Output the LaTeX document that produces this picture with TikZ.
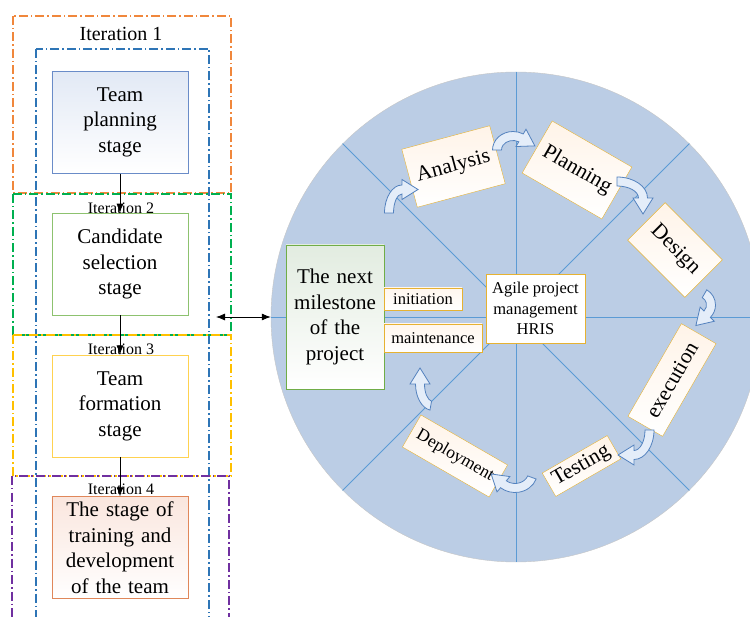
\documentclass[tikz,border=0pt]{standalone}
\usepackage{fontspec}
\setmainfont{Liberation Serif}
\usetikzlibrary{arrows.meta}

\definecolor{wheelblue}{RGB}{187,205,229}
\definecolor{spokeblue}{RGB}{91,155,213}
\definecolor{iterorange}{RGB}{240,135,60}
\definecolor{itergreen}{RGB}{0,176,80}
\definecolor{iteryellow}{RGB}{255,192,0}
\definecolor{iterpurple}{RGB}{112,48,160}
\definecolor{iterblue}{RGB}{46,117,182}
\definecolor{phasegold}{RGB}{230,178,50}
\definecolor{arrowline}{RGB}{84,130,190}
\definecolor{arrowfill}{RGB}{228,237,249}
\definecolor{planline}{RGB}{106,140,200}
\definecolor{plantop}{RGB}{226,233,245}
\definecolor{selectline}{RGB}{141,194,111}
\definecolor{formline}{RGB}{255,210,80}
\definecolor{trainline}{RGB}{224,135,90}
\definecolor{traintop}{RGB}{250,230,222}
\definecolor{mileline}{RGB}{112,173,71}
\definecolor{miletop}{RGB}{226,236,224}

% hollow curved arrow: centre x, centre y, x radius, y radius, start angle, end angle
\newcommand{\bentarrow}[6]{%
	\path[bent arrow] ({#1+(#3+4.5)*cos(#5)},{#2+(#4+4.5)*sin(#5)})
		arc[start angle=#5, end angle=#6, x radius=#3+4.5, y radius=#4+4.5]
		-- ({#1+(#3+10)*cos(#6)},{#2+(#4+10)*sin(#6)})
		-- ({#1+#3*cos(#6)-16*sin(#6)},{#2+#4*sin(#6)+16*cos(#6)})
		-- ({#1+(#3-10)*cos(#6)},{#2+(#4-10)*sin(#6)})
		-- ({#1+(#3-4.5)*cos(#6)},{#2+(#4-4.5)*sin(#6)})
		arc[start angle=#6, end angle=#5, x radius=#3-4.5, y radius=#4-4.5]
		-- cycle;}

\begin{document}
\begin{tikzpicture}
	[x=1pt, y=-1pt,
		stage/.style		={rectangle
									, draw
									, thick
									, text width=126pt
									, align=center
									, minimum width=136pt
									, minimum height=102pt
									, inner sep=5pt
									, font=\fontsize{21}{25.5}\selectfont
									},
		frame/.style		={draw
									, line width=1.2pt
									, dash pattern=on 9pt off 3pt on 1.5pt off 3pt
									},
		phase/.style		={rectangle
									, draw=phasegold
									, top color=orange!9
									, bottom color=white
									, inner sep=1pt
									, font=\fontsize{21.5}{24}\selectfont
									},
		tag/.style			={rectangle
									, draw=phasegold
									, thick
									, top color=orange!7
									, bottom color=white
									, inner sep=1pt
									, font=\fontsize{16.5}{20}\selectfont
									},
		bent arrow/.style	={draw=arrowline
									, line width=0.8pt
									, fill=arrowfill
									},
		line/.style		 	={draw
									, thick
									, -{Latex[length=9pt,width=7pt]}
									}
	]
\useasboundingbox (0,0) rectangle (750,617);

% iteration frames
\path[frame, draw=iterblue]		(36,49) rectangle (209,630);
\path[frame, draw=iterorange]		(13,16) rectangle (231,193);
\path[frame, draw=itergreen]		(13,194) rectangle (231,335);
\path[frame, draw=iteryellow]		(13,335) rectangle (231,476);
\path[frame, draw=iterpurple]		(12,476) rectangle (229,630);

\matrix (stages) [row sep=39pt, inner sep=0pt] at (120,335)
	{
		% row 1
			\node [stage, draw=planline, top color=plantop, bottom color=white]
				(plan)	{Team\\planning\\stage}; \\
		% row 2
			\node [stage, draw=selectline, fill=white]
				(select)	{Candidate\\selection\\stage}; \\
		% row 3
			\node [stage, draw=formline, fill=white]
				(form)	{Team\\formation\\stage}; \\
		% row 4
			\node [stage, draw=trainline, top color=traintop, bottom color=white]
				(train)	{The stage of\\training and\\development\\of the team}; \\
	};

\node [font=\fontsize{20}{24}\selectfont]		(iter1) at (121,34)		{Iteration 1};
\node [font=\fontsize{16}{19}\selectfont, inner sep=0pt]	(iter2) at (121,208)	{Iteration 2};
\node [font=\fontsize{16}{19}\selectfont, inner sep=0pt]	(iter3) at (121,349)	{Iteration 3};
\node [font=\fontsize{16}{19}\selectfont, inner sep=0pt]	(iter4) at (121,489)	{Iteration 4};

% the wheel
\node [circle, draw=gray!45, fill=wheelblue, minimum size=490pt, inner sep=0pt] (wheel) at (516,317) {};
\begin{scope}[spokeblue, line width=0.8pt]
	\draw (wheel.north) -- (wheel.south);
	\draw (wheel.west) -- (wheel.east);
	\draw (wheel.45) -- (wheel.225);
	\draw (wheel.135) -- (wheel.315);
\end{scope}

\node [rectangle, draw=mileline, thick, top color=miletop, bottom color=white
		, minimum width=98pt, minimum height=144pt, text width=92pt, align=center, inner sep=3pt
		, font=\fontsize{21}{25.7}\selectfont]
	(milestone) at (335,317)	{The next\\milestone\\of the\\project};
\node [tag, minimum width=78pt, minimum height=22pt]		(initiation) at (423,299)		{initiation};
\node [tag, minimum width=98pt, minimum height=28pt]		(maintenance) at (433,338)	{maintenance};
\node [rectangle, draw=phasegold, thick, fill=white, minimum width=99pt, minimum height=69pt
		, align=center, inner sep=2pt, font=\fontsize{16.5}{20.5}\selectfont]
	(hris) at (535.5,308.5)	{Agile project\\management\\HRIS};

% the phases
\node [phase, rotate=15, minimum width=91pt, minimum height=60pt]		(analysis) at (453.5,166.5)	{Analysis};
\node [phase, rotate=-30, minimum width=92pt, minimum height=60pt]	(planning) at (577,170)		{Planning};
\node [phase, rotate=-45, minimum width=81pt, minimum height=53pt]	(design) at (675,250)			{Design};
\node [phase, rotate=60, minimum width=107pt, minimum height=40pt]	(execution) at (672,380)		{execution};
\node [phase, rotate=30, minimum width=75pt, minimum height=27pt]		(testing) at (581.5,466)		{Testing};
\node [phase, rotate=-30, minimum width=100pt, minimum height=37pt, font=\fontsize{17.5}{20}\selectfont]
	(deployment) at (455,456)	{Deployment};

\bentarrow{402}{213}{13}{23.5}{180}{270}
\bentarrow{513}{150}{16}{14}{180}{300}
\bentarrow{617}{198}{26}{16.5}{270}{360}
\bentarrow{698}{305}{13}{13}{-60}{45}
\bentarrow{634}{430}{15.5}{25}{0}{90}
\bentarrow{515}{472}{18}{16}{20}{130}
\bentarrow{433}{384}{13}{22}{100}{180}

% connectors
\coordinate (link) at (216,317);
\begin{scope}[every path/.style=line]
	\path		(plan)		-- (select);
	\path		(select)		-- (form);
	\path		(form)		-- (train);
	\path	[{Latex[length=9pt,width=7pt]}-{Latex[length=9pt,width=7pt]}]	(link) -- (wheel.west);
\end{scope}
\end{tikzpicture}
\end{document}
